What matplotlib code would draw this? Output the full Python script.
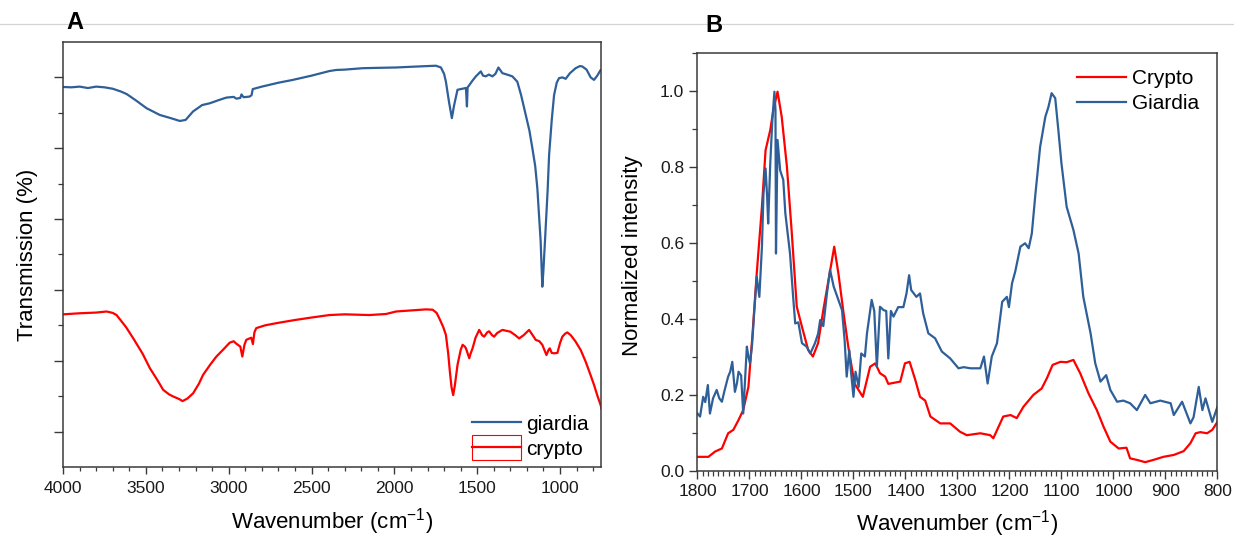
import matplotlib
matplotlib.use("Agg")
import matplotlib.pyplot as plt
from matplotlib.lines import Line2D
from matplotlib.patches import Rectangle, Patch
from matplotlib.legend_handler import HandlerPatch, HandlerTuple
from matplotlib.ticker import MultipleLocator

plt.rcParams['font.family'] = ['Liberation Sans', 'DejaVu Sans']
plt.rcParams['mathtext.fontset'] = 'custom'
plt.rcParams['mathtext.rm'] = 'Liberation Sans'
plt.rcParams['mathtext.it'] = 'Liberation Sans:italic'

BLUE = '#2f5f98'
RED = '#ff0000'

# ---------------- Panel A (FTIR transmission, arbitrary offset units) ----------------
a_giardia_wn = [4000, 3950, 3900, 3850, 3800, 3750, 3700, 3650, 3616, 3560, 3496, 3416, 3350,
                3295, 3260, 3215, 3160, 3114, 3060, 3014, 2970, 2954, 2930, 2923, 2910, 2873,
                2862, 2855, 2800, 2700, 2613, 2500, 2392, 2351, 2300, 2191, 2100, 1990, 1900,
                1800, 1749, 1719, 1700, 1689, 1670, 1653, 1640, 1619, 1590, 1568, 1562, 1558,
                1548, 1530, 1508, 1478, 1465, 1448, 1430, 1408, 1390, 1372, 1348, 1320, 1288,
                1258, 1235, 1207, 1185, 1167, 1150, 1137, 1117, 1107, 1101, 1091, 1075, 1066,
                1050, 1036, 1020, 1006, 985, 966, 940, 906, 880, 866, 840, 815, 795, 775, 755, 750]
a_giardia_t = [10.73, 10.72, 10.74, 10.70, 10.74, 10.72, 10.68, 10.60, 10.53, 10.35, 10.13, 9.94, 9.85,
               9.77, 9.80, 10.04, 10.22, 10.27, 10.36, 10.43, 10.45, 10.40, 10.42, 10.52, 10.44, 10.46,
               10.50, 10.67, 10.74, 10.85, 10.93, 11.05, 11.18, 11.21, 11.22, 11.26, 11.27, 11.28, 11.30,
               11.32, 11.33, 11.28, 11.10, 10.88, 10.30, 9.85, 10.20, 10.65, 10.68, 10.70, 10.18, 10.72,
               10.78, 10.90, 11.03, 11.17, 11.05, 11.03, 11.08, 11.03, 11.10, 11.28, 11.12, 11.08, 11.03,
               10.88, 10.50, 9.94, 9.50, 9.00, 8.50, 7.87, 6.37, 5.09, 5.50, 6.37, 7.80, 8.81,
               9.80, 10.50, 10.85, 10.98, 11.00, 10.96, 11.12, 11.26, 11.32, 11.31, 11.22, 11.00, 10.93, 11.05, 11.21, 11.20]

a_crypto_wn = [4000, 3900, 3800, 3737, 3700, 3677, 3620, 3576, 3520, 3476, 3430, 3396, 3360, 3335,
               3300, 3279, 3250, 3215, 3180, 3155, 3110, 3074, 3030, 2994, 2970, 2954, 2930, 2918,
               2905, 2894, 2864, 2854, 2845, 2834, 2780, 2713, 2600, 2500, 2392, 2300, 2151, 2050,
               1990, 1900, 1809, 1769, 1745, 1729, 1705, 1689, 1675, 1665, 1655, 1645, 1635, 1619,
               1600, 1588, 1575, 1568, 1548, 1540, 1528, 1510, 1488, 1470, 1458, 1440, 1428, 1410,
               1398, 1380, 1348, 1300, 1270, 1247, 1220, 1187, 1165, 1147, 1125, 1107, 1082, 1070,
               1062, 1050, 1036, 1016, 1000, 986, 970, 956, 935, 906, 875, 845, 820, 795, 775, 755, 750]
a_crypto_t = [4.31, 4.34, 4.36, 4.39, 4.35, 4.29, 3.95, 3.63, 3.20, 2.79, 2.45, 2.18, 2.05, 1.99,
              1.92, 1.86, 1.93, 2.08, 2.35, 2.60, 2.90, 3.12, 3.33, 3.51, 3.55, 3.48, 3.40, 3.12,
              3.45, 3.59, 3.65, 3.47, 3.80, 3.92, 4.00, 4.06, 4.15, 4.22, 4.29, 4.31, 4.29, 4.32,
              4.39, 4.42, 4.45, 4.44, 4.35, 4.20, 3.95, 3.73, 3.20, 2.69, 2.25, 2.03, 2.30, 2.88,
              3.30, 3.45, 3.40, 3.35, 3.07, 3.20, 3.35, 3.65, 3.87, 3.72, 3.68, 3.80, 3.83, 3.72,
              3.68, 3.78, 3.87, 3.82, 3.72, 3.63, 3.72, 3.87, 3.72, 3.59, 3.55, 3.45, 3.16, 3.30,
              3.35, 3.22, 3.21, 3.22, 3.50, 3.68, 3.76, 3.80, 3.72, 3.54, 3.30, 2.97, 2.65, 2.32, 2.02, 1.75, 1.65]

a_labels = ['giardia', 'crypto']
a_xticks = [4000, 3500, 3000, 2500, 2000, 1500, 1000]

# ---------------- Panel B (normalized intensity) ----------------
b_giardia_wn = [1800, 1795, 1789, 1785, 1780, 1776, 1770, 1763, 1758, 1753, 1748, 1741, 1737, 1733,
                1728, 1724, 1721, 1716, 1712, 1708, 1705, 1702, 1699, 1695, 1691, 1686, 1681, 1676,
                1673, 1669, 1666, 1664, 1660, 1656, 1652, 1650, 1649, 1646, 1641, 1635, 1631, 1622,
                1616, 1612, 1606, 1599, 1590, 1583, 1574, 1568, 1564, 1558, 1551, 1545, 1538, 1529,
                1522, 1517, 1513, 1508, 1505, 1500, 1496, 1490, 1485, 1478, 1474, 1465, 1460, 1455,
                1449, 1442, 1437, 1433, 1428, 1423, 1414, 1404, 1398, 1393, 1389, 1379, 1372, 1366,
                1356, 1343, 1330, 1314, 1298, 1288, 1275, 1256, 1249, 1242, 1234, 1224, 1214, 1205,
                1201, 1195, 1189, 1179, 1170, 1163, 1157, 1150, 1141, 1131, 1125, 1119, 1112, 1106,
                1100, 1090, 1077, 1067, 1058, 1044, 1035, 1025, 1014, 1006, 993, 981, 968, 955, 939,
                929, 910, 890, 884, 868, 852, 846, 836, 829, 823, 810, 800]
b_giardia_i = [0.150, 0.142, 0.194, 0.180, 0.225, 0.150, 0.190, 0.212, 0.190, 0.181, 0.210, 0.247, 0.260, 0.286,
               0.207, 0.230, 0.260, 0.250, 0.150, 0.250, 0.326, 0.300, 0.282, 0.330, 0.414, 0.510, 0.457, 0.589,
               0.729, 0.795, 0.720, 0.650, 0.808, 0.922, 0.997, 0.950, 0.571, 0.870, 0.790, 0.765, 0.677, 0.571,
               0.457, 0.387, 0.390, 0.335, 0.326, 0.308, 0.335, 0.360, 0.396, 0.380, 0.466, 0.528, 0.484, 0.449,
               0.422, 0.343, 0.247, 0.317, 0.264, 0.194, 0.260, 0.220, 0.308, 0.300, 0.361, 0.449, 0.420, 0.273,
               0.431, 0.422, 0.420, 0.295, 0.420, 0.405, 0.430, 0.430, 0.466, 0.514, 0.475, 0.457, 0.466, 0.414,
               0.361, 0.348, 0.313, 0.295, 0.269, 0.272, 0.269, 0.269, 0.300, 0.229, 0.300, 0.335, 0.444, 0.457,
               0.430, 0.493, 0.523, 0.589, 0.598, 0.585, 0.624, 0.729, 0.852, 0.931, 0.957, 0.993, 0.980, 0.896,
               0.808, 0.694, 0.633, 0.571, 0.457, 0.361, 0.282, 0.234, 0.251, 0.212, 0.181, 0.184, 0.177, 0.159, 0.199,
               0.177, 0.184, 0.177, 0.146, 0.181, 0.124, 0.140, 0.220, 0.159, 0.190, 0.128, 0.168]

b_crypto_wn = [1800, 1779, 1766, 1753, 1741, 1731, 1721, 1712, 1702, 1694, 1686, 1676, 1669, 1660,
               1654, 1646, 1638, 1628, 1619, 1609, 1599, 1587, 1578, 1568, 1558, 1548, 1537, 1529,
               1519, 1510, 1498, 1482, 1468, 1458, 1449, 1439, 1433, 1410, 1401, 1392, 1381, 1372,
               1362, 1352, 1333, 1314, 1295, 1282, 1256, 1237, 1231, 1212, 1198, 1186, 1173, 1154,
               1138, 1128, 1117, 1102, 1090, 1077, 1064, 1048, 1032, 1019, 1006, 990, 975, 968, 955,
               939, 923, 904, 884, 865, 852, 842, 833, 820, 810, 800]
b_crypto_i = [0.036, 0.036, 0.050, 0.058, 0.098, 0.107, 0.133, 0.159, 0.220, 0.361, 0.519, 0.694, 0.843, 0.896,
              0.949, 0.997, 0.931, 0.800, 0.633, 0.431, 0.378, 0.317, 0.300, 0.335, 0.422, 0.501, 0.589, 0.519,
              0.414, 0.326, 0.229, 0.194, 0.273, 0.282, 0.256, 0.247, 0.228, 0.234, 0.282, 0.286, 0.238, 0.194,
              0.184, 0.142, 0.124, 0.124, 0.102, 0.093, 0.098, 0.093, 0.085, 0.142, 0.146, 0.138, 0.168, 0.199,
              0.216, 0.243, 0.278, 0.286, 0.285, 0.291, 0.256, 0.203, 0.159, 0.115, 0.076, 0.058, 0.060, 0.032, 0.028,
              0.022, 0.028, 0.036, 0.041, 0.051, 0.072, 0.098, 0.101, 0.098, 0.107, 0.128]

b_labels = ['Crypto', 'Giardia']
b_xticks = [1800, 1700, 1600, 1500, 1400, 1300, 1200, 1100, 1000, 900, 800]
b_yticks = [0.0, 0.2, 0.4, 0.6, 0.8, 1.0]

xlabel = 'Wavenumber (cm$^{-1}$)'

fig = plt.figure(figsize=(12.34, 5.37), dpi=100)

# thin grey separator line at the top
fig.add_artist(Line2D([0, 1], [0.9553, 0.9553], transform=fig.transFigure,
                      color='#d4d4d4', lw=0.9, zorder=0))

SPINE = '#3a3a3a'

# ----- Panel A -----
axA = fig.add_axes([0.0511, 0.1304, 0.4363, 0.7914])
lg, = axA.plot(a_giardia_wn, a_giardia_t, color=BLUE, lw=1.6)
lc, = axA.plot(a_crypto_wn, a_crypto_t, color=RED, lw=1.6)
axA.set_xlim(4000, 750)
axA.set_ylim(0, 12)
axA.set_xticks(a_xticks)
axA.xaxis.set_minor_locator(MultipleLocator(100))
axA.set_yticks([1, 3, 5, 7, 9, 11])
axA.set_yticks([2, 4, 6, 8, 10], minor=True)
axA.set_yticklabels([])
axA.tick_params(axis='x', which='major', direction='out', length=5, width=1, pad=5,
                labelsize=12.5, colors=SPINE, labelcolor='#1a1a1a')
axA.tick_params(axis='x', which='minor', direction='out', length=3, width=0.9, colors=SPINE)
axA.tick_params(axis='y', which='major', direction='out', length=6.5, width=1, colors=SPINE)
axA.tick_params(axis='y', which='minor', direction='out', length=3.4, width=0.9, colors=SPINE)
for s in axA.spines.values():
    s.set_color(SPINE)
    s.set_linewidth(1.1)
axA.set_xlabel(xlabel, fontsize=16, va='center')
axA.xaxis.set_label_coords(0.5, -0.129)
axA.set_ylabel('Transmission (%)', fontsize=16)
axA.yaxis.set_label_coords(-0.046, 0.5)


def make_box(legend, orig_handle, xdescent, ydescent, width, height, fontsize):
    return Rectangle((-xdescent, -ydescent + height / 2 - 0.85 * height), width, 1.7 * height)


box_h = Patch(facecolor='white', edgecolor=RED, linewidth=0.8)
line_h = Line2D([], [], color=RED, lw=1.6)
legA = axA.legend([lg, (box_h, line_h)], a_labels, loc='lower right',
                  bbox_to_anchor=(1.003, -0.015), frameon=False, fontsize=15,
                  handlelength=2.35, handletextpad=0.25, labelspacing=0.3,
                  borderpad=0.2,
                  handler_map={box_h: HandlerPatch(patch_func=make_box),
                               tuple: HandlerTuple(ndivide=1, pad=0)})

# ----- Panel B -----
axB = fig.add_axes([0.5652, 0.1238, 0.4214, 0.7784])
lbc, = axB.plot(b_crypto_wn, b_crypto_i, color=RED, lw=1.6)
lbg, = axB.plot(b_giardia_wn, b_giardia_i, color=BLUE, lw=1.6)
axB.set_xlim(1800, 800)
axB.set_ylim(0, 1.1)
axB.set_xticks(b_xticks)
axB.xaxis.set_minor_locator(MultipleLocator(10))
axB.set_yticks(b_yticks)
axB.set_yticklabels([f'{v:.1f}' for v in b_yticks])
axB.yaxis.set_minor_locator(MultipleLocator(0.1))
axB.tick_params(axis='both', which='major', direction='out', length=5.5, width=1, pad=4,
                labelsize=12.5, colors=SPINE, labelcolor='#1a1a1a')
axB.tick_params(axis='both', which='minor', direction='out', length=3.3, width=0.9, colors=SPINE)
for s in axB.spines.values():
    s.set_color(SPINE)
    s.set_linewidth(1.1)
axB.set_xlabel(xlabel, fontsize=16, va='center')
axB.xaxis.set_label_coords(0.5, -0.126)
axB.set_ylabel('Normalized intensity', fontsize=16)
axB.yaxis.set_label_coords(-0.105, 0.515)
axB.legend([lbc, lbg], b_labels, loc='upper right', bbox_to_anchor=(0.993, 0.995),
           frameon=False, fontsize=15, handlelength=2.35, handletextpad=0.3,
           labelspacing=0.3, borderpad=0.2)

# panel letters
fig.text(0.0608, 0.959, 'A', fontsize=17, fontweight='bold', ha='center', va='center')
fig.text(0.5786, 0.953, 'B', fontsize=17, fontweight='bold', ha='center', va='center')

fig.savefig('out.png', dpi=100)
